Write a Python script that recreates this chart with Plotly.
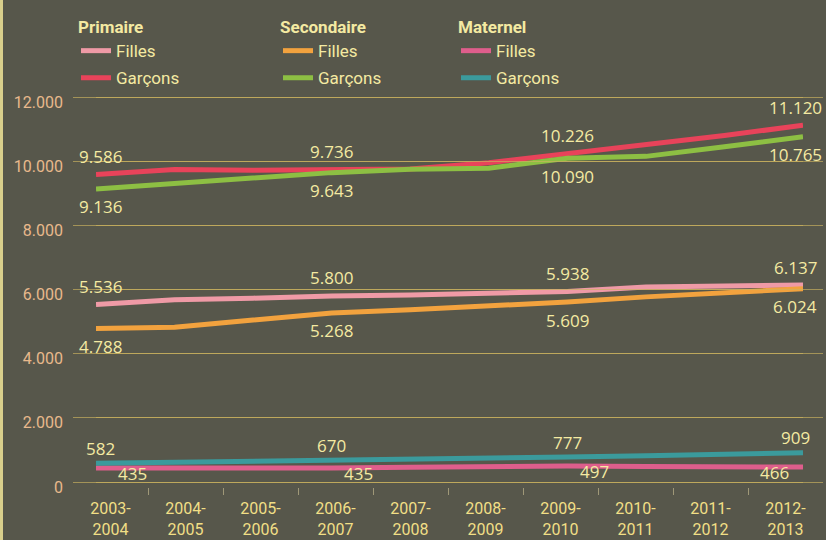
import plotly.graph_objects as go

# ---------------- data ----------------
years = ["2003-2004", "2004-2005", "2005-2006", "2006-2007", "2007-2008",
         "2008-2009", "2009-2010", "2010-2011", "2011-2012", "2012-2013"]
tick_labels = ["2003-<br>2004", "2004-<br>2005", "2005-<br>2006", "2006-<br>2007",
               "2007-<br>2008", "2008-<br>2009", "2009-<br>2010", "2010-<br>2011",
               "2011-<br>2012", "2012-<br>2013"]

primaire_filles = [5536, 5680, 5730, 5800, 5830, 5880, 5938, 6080, 6110, 6137]
primaire_garcons = [9586, 9740, 9720, 9736, 9760, 9950, 10226, 10500, 10800, 11120]
secondaire_filles = [4788, 4820, 5050, 5268, 5370, 5470, 5609, 5770, 5900, 6024]
secondaire_garcons = [9136, 9300, 9500, 9643, 9750, 9780, 10090, 10150, 10450, 10765]
maternel_filles = [435, 430, 425, 435, 460, 490, 497, 480, 470, 466]
maternel_garcons = [582, 610, 640, 670, 700, 740, 777, 820, 860, 909]

labelled_idx = [0, 3, 6, 9]
y_ticks = [0, 2000, 4000, 6000, 8000, 10000, 12000]

# ---------------- style ----------------
BG = "#57574b"
TXT = "#f4eaa2"
YTXT = "#e8b98c"
GRID = "rgba(205,180,95,0.65)"
FONT = "Open Sans, Noto Sans, sans-serif"
NARROW = "Liberation Sans Narrow, Roboto, sans-serif"

series = [
    (primaire_filles, "Filles", "legend", "#ef9aa6", 18),
    (primaire_garcons, "Garçons", "legend", "#e8435a", 18),
    (secondaire_filles, "Filles", "legend2", "#f2a23e", -18),
    (secondaire_garcons, "Garçons", "legend2", "#8dbf43", -18),
    (maternel_filles, "Filles", "legend3", "#df5e8c", None),
    (maternel_garcons, "Garçons", "legend3", "#3b9a9c", 15),
]

idx = list(range(len(years)))

fig = go.Figure()
annotations = []


def fmt(v):
    return f"{v:,}".replace(",", ".")


# invisible carrier trace for the category-tick axis
fig.add_trace(go.Scatter(
    x=idx, y=maternel_garcons, mode="lines", line=dict(width=0, color="rgba(0,0,0,0)"),
    xaxis="x2", yaxis="y", showlegend=False, hoverinfo="skip",
))

for i, (vals, name, leg, color, side) in enumerate(series):
    fig.add_trace(go.Scatter(
        x=idx, y=vals, mode="lines", name=name,
        line=dict(color=color, width=5),
        legend=leg, legendgroup=f"g{i}",
        xaxis="x", yaxis="y", hoverinfo="skip",
    ))
    for k in labelled_idx:
        if side is None:
            xs = 36 if k == 0 else (-29 if k == len(years) - 1 else 27)
            ys = -5
        else:
            xs = 4 if k == 0 else (-8 if k == len(years) - 1 else 0)
            ys = side
        annotations.append(dict(
            x=idx[k], y=vals[k], xref="x", yref="y", text=fmt(vals[k]),
            showarrow=False, xshift=xs, yshift=ys,
            font=dict(family=FONT, size=17, color=TXT),
        ))

M_T, M_B, M_L, M_R = 94, 53, 73, 3
PLOT_H = 540 - M_T - M_B
PLOT_W = 826 - M_L - M_R
legend_common = dict(
    xref="paper", yref="paper", xanchor="left", yanchor="top",
    bgcolor="rgba(0,0,0,0)", borderwidth=0, tracegroupgap=2,
    font=dict(family=NARROW, size=17, color=TXT),
)
ly = 1 + (M_T - 11) / PLOT_H

fig.update_layout(
    width=826, height=540,
    paper_bgcolor=BG, plot_bgcolor="rgba(0,0,0,0)",
    margin=dict(l=M_L, r=M_R, t=M_T, b=M_B, autoexpand=False),
    separators=",.",
    showlegend=True,
    legend=dict(**legend_common, x=(76 - M_L) / PLOT_W, y=ly,
                title=dict(text="<b>Primaire</b>", font=dict(family=NARROW, size=17, color=TXT))),
    legend2=dict(**legend_common, x=(278 - M_L) / PLOT_W, y=ly,
                 title=dict(text="<b>Secondaire</b>", font=dict(family=NARROW, size=17, color=TXT))),
    legend3=dict(**legend_common, x=(456 - M_L) / PLOT_W, y=ly,
                 title=dict(text="<b>Maternel</b>", font=dict(family=NARROW, size=17, color=TXT))),
    xaxis=dict(
        domain=[(96 - M_L) / PLOT_W, (803 - M_L) / PLOT_W], anchor="y",
        range=[0, len(years) - 1],
        showticklabels=False, showgrid=False, zeroline=False, showline=False, ticks="",
    ),
    xaxis2=dict(
        domain=[0, 1], anchor="y", automargin=False,
        range=[-0.5, len(years) - 0.5],
        tickmode="array", tickvals=idx, ticktext=tick_labels,
        ticks="", showgrid=False, zeroline=False, showline=False,
        ticklabelstandoff=10,
        tickfont=dict(family=NARROW, size=16, color="#f1df86"),
        minor=dict(tickmode="array",
                   tickvals=[k + 0.5 for k in idx[:-1]],
                   ticks="outside", ticklen=7, tickwidth=1,
                   tickcolor="rgba(190,180,140,0.7)", showgrid=False),
    ),
    yaxis=dict(
        anchor="x2", range=[-156, 12094], automargin=False,
        tickmode="array", tickvals=y_ticks, tickformat=",",
        showgrid=True, gridcolor=GRID, gridwidth=1,
        zeroline=False, showline=False, ticks="",
        ticklabelstandoff=9, ticklabelshift=5,
        tickfont=dict(family=NARROW, size=16, color=YTXT),
    ),
    shapes=[dict(type="rect", xref="paper", yref="paper",
                 x0=-M_L / PLOT_W, x1=-(M_L - 3) / PLOT_W,
                 y0=-M_B / PLOT_H, y1=1 + M_T / PLOT_H,
                 fillcolor="#d9cf8c", line=dict(width=0), layer="below")],
    annotations=annotations,
)

fig.write_html("out.html", config={"displayModeBar": False},
               post_script="document.body.style.margin='0';")
